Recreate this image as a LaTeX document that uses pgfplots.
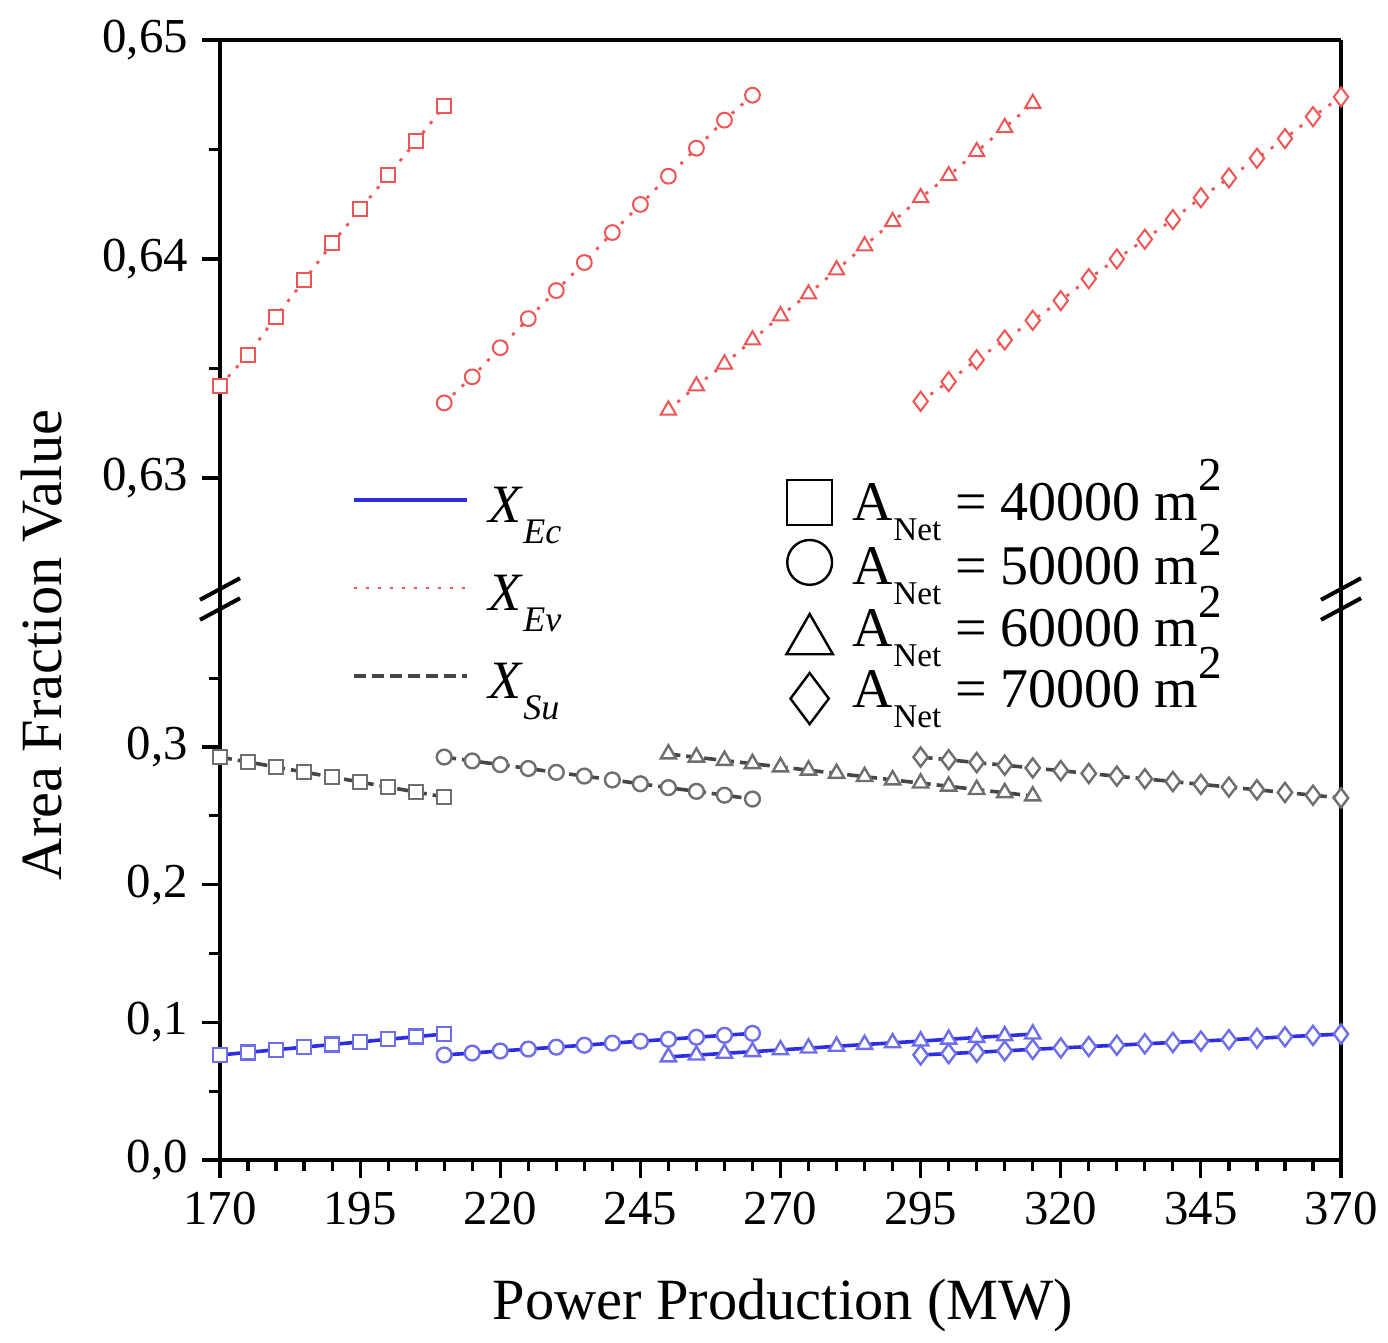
\documentclass[border=0pt]{standalone}
\usepackage{pgfplots}
\pgfplotsset{compat=1.18}
\usepackage{fontspec}
\setmainfont{Liberation Serif}
\definecolor{ecblue}{RGB}{45,45,225}
\definecolor{ecmark}{RGB}{110,110,235}
\definecolor{evred}{RGB}{240,85,85}
\definecolor{sugray}{RGB}{70,70,70}
\definecolor{sumark}{RGB}{110,110,110}
\tikzset{
  ec/.style={ecblue, line width=0.9pt, mark options={solid, draw=ecmark, fill=white, line width=0.6pt}},
  ev/.style={evred, line width=0.7pt, dash pattern=on 0.8pt off 2.2pt, mark options={solid, draw=evred, fill=white, line width=0.5pt}},
  su/.style={sugray, line width=0.9pt, dash pattern=on 3pt off 1.5pt, mark options={solid, draw=sumark, fill=white, line width=0.6pt}},
  msq/.style={mark=square*, mark size=1.75pt},
  mci/.style={mark=*, mark size=1.85pt},
  mtr/.style={mark=triangle*, mark size=2.2pt},
  mdi/.style={mark=diamond*, mark size=2.4pt},
}
\pgfplotsset{
  brk/.style={
    scale only axis, width=280.25pt,
    xmin=170, xmax=370,
    tick align=outside, tick pos=left,
    major tick length=4.5pt, minor tick length=2.8pt,
    every tick/.append style={black, line width=0.8pt},
    axis line style={line width=0.8pt, -},
    tick label style={font=\fontsize{12.2}{14}\selectfont},
    /pgf/number format/assume math mode=true,
    legend cell align=left,
  },
}
\newcommand{\Xsub}[1]{\textit{X}\raisebox{-5.25pt}[0pt][0pt]{\fontsize{9}{10}\selectfont\textit{#1}}}
\newcommand{\Anet}[1]{A\raisebox{-5pt}[0pt][0pt]{\fontsize{8.3}{9}\selectfont Net} = #1 m\raisebox{7.25pt}[0pt][0pt]{\fontsize{11.8}{12}\selectfont 2}}
\begin{document}
\begin{tikzpicture}
\path[use as bounding box] (-55pt,-45.5pt) rectangle (292pt,290pt);
% ---------------- lower part ----------------
\begin{axis}[brk, at={(0pt,0pt)}, anchor=south west, height=137.67pt,
  ymin=0, ymax=0.4,
  axis x line*=bottom, axis y line*=box,
  xtick={170,195,...,370}, minor x tick num=4,
  ytick={0,0.1,0.2,0.3}, yticklabels={{0,0},{0,1},{0,2},{0,3}},
  minor ytick={0.05,0.15,0.25,0.35},
  legend style={draw=none, fill=none, inner sep=0pt, outer sep=0pt,
    at={(axis description cs:0.1178,1.2494)}, anchor=north west,
    font=\fontsize{13.5}{16}\selectfont, row sep=0pt,
    nodes={inner sep=0pt, text height=12.5pt, text depth=9.5pt},
    /tikz/every odd column/.append style={column sep=5pt}},
  legend image code/.code={\draw[#1] (0pt,4pt) -- (28.25pt,4pt);},
]
% X_Ec
\addplot[ec, msq, forget plot] coordinates {(170,0.0763)(175,0.0782)(180,0.0801)(185,0.0820)(190,0.0839)(195,0.0858)(200,0.0877)(205,0.0896)(210,0.0915)};
\addplot[ec, mci, forget plot] coordinates {(210,0.0763)(215,0.0777)(220,0.0792)(225,0.0806)(230,0.0820)(235,0.0834)(240,0.0849)(245,0.0863)(250,0.0877)(255,0.0892)(260,0.0906)(265,0.0920)};
\addplot[ec, mtr, forget plot] coordinates {(250,0.0749)(255,0.0762)(260,0.0775)(265,0.0787)(270,0.0800)(275,0.0813)(280,0.0826)(285,0.0839)(290,0.0851)(295,0.0864)(300,0.0877)(305,0.0890)(310,0.0902)(315,0.0915)};
\addplot[ec, mdi, forget plot] coordinates {(295,0.0763)(300,0.0773)(305,0.0783)(310,0.0793)(315,0.0804)(320,0.0814)(325,0.0824)(330,0.0834)(335,0.0844)(340,0.0854)(345,0.0864)(350,0.0874)(355,0.0884)(360,0.0895)(365,0.0905)(370,0.0915)};
% X_Su
\addplot[su, msq, forget plot] coordinates {(170,0.2927)(175,0.2891)(180,0.2855)(185,0.2818)(190,0.2782)(195,0.2746)(200,0.2709)(205,0.2673)(210,0.2637)};
\addplot[su, mci, forget plot] coordinates {(210,0.2927)(215,0.2899)(220,0.2872)(225,0.2844)(230,0.2816)(235,0.2789)(240,0.2761)(245,0.2733)(250,0.2705)(255,0.2678)(260,0.2650)(265,0.2622)};
\addplot[su, mtr, forget plot] coordinates {(250,0.2949)(255,0.2926)(260,0.2902)(265,0.2879)(270,0.2855)(275,0.2832)(280,0.2808)(285,0.2785)(290,0.2761)(295,0.2738)(300,0.2715)(305,0.2691)(310,0.2668)(315,0.2644)};
\addplot[su, mdi, forget plot] coordinates {(295,0.2927)(300,0.2907)(305,0.2887)(310,0.2868)(315,0.2848)(320,0.2828)(325,0.2808)(330,0.2788)(335,0.2769)(340,0.2749)(345,0.2729)(350,0.2709)(355,0.2689)(360,0.2670)(365,0.2650)(370,0.2630)};
\addlegendimage{ec}
\addlegendentry{\Xsub{Ec}}
\addlegendimage{ev}
\addlegendentry{\Xsub{Ev}}
\addlegendimage{su}
\addlegendentry{\Xsub{Su}}
\end{axis}
% ---------------- upper part ----------------
\begin{axis}[brk, at={(0pt,143.125pt)}, anchor=south west, height=136.875pt,
  ymin=0.625, ymax=0.65,
  hide x axis, axis y line*=box,
  xtick=\empty,
  ytick={0.63,0.64,0.65}, yticklabels={{0,63},{0,64},{0,65}},
  minor ytick={0.635,0.645},
  legend style={draw=none, fill=none, inner sep=0pt, outer sep=0pt,
    at={(axis description cs:0.5053,0.1993)}, anchor=north west,
    font=\fontsize{14}{16}\selectfont, row sep=0pt,
    nodes={inner sep=0pt, text height=10.4pt, text depth=5pt},
    /tikz/every odd column/.append style={column sep=5pt}},
  legend image code/.code={\draw[#1] plot coordinates {(0pt,0pt)};},
]
\addplot[ev, msq, forget plot] coordinates {(170,0.63421)(175,0.63563)(180,0.63737)(185,0.63902)(190,0.64071)(195,0.64227)(200,0.64382)(205,0.64538)(210,0.64698)};
\addplot[ev, mci, forget plot] coordinates {(210,0.63343)(215,0.63462)(220,0.63595)(225,0.63728)(230,0.63856)(235,0.63984)(240,0.64121)(245,0.64249)(250,0.64378)(255,0.64506)(260,0.64634)(265,0.64748)};
\addplot[ev, mtr, forget plot] coordinates {(250,0.6331)(255,0.6342)(260,0.6352)(265,0.6363)(270,0.6374)(275,0.6384)(280,0.6395)(285,0.6406)(290,0.6417)(295,0.6428)(300,0.6438)(305,0.6449)(310,0.6460)(315,0.6471)};
\addplot[ev, mdi, forget plot] coordinates {(295,0.6335)(300,0.6344)(305,0.6354)(310,0.6363)(315,0.6372)(320,0.6381)(325,0.6391)(330,0.6400)(335,0.6409)(340,0.6418)(345,0.6428)(350,0.6437)(355,0.6446)(360,0.6455)(365,0.6465)(370,0.6474)};
\addlegendimage{mark=square, mark size=5.6pt, black, line width=0.6pt, yshift=1.7pt}
\addlegendentry{\Anet{40000}}
\addlegendimage{mark=o, mark size=5.6pt, black, line width=0.6pt, yshift=2.8pt}
\addlegendentry{\Anet{50000}}
\addlegendimage{mark=triangle, mark size=6.7pt, black, line width=0.6pt, yshift=-1.4pt}
\addlegendentry{\Anet{60000}}
\addlegendimage{mark=diamond, mark size=6.4pt, black, line width=0.6pt, yshift=-0.45pt}
\addlegendentry{\Anet{70000}}
\end{axis}
% ---------------- frame top and axis break ----------------
\draw[line width=0.8pt] (0pt,280pt) -- (280.25pt,280pt);
\draw[line width=0.8pt] (0pt,137.5pt) -- (0pt,143.3pt);
\draw[line width=0.8pt] (280.25pt,137.5pt) -- (280.25pt,143.3pt);
\foreach \xx in {0pt,280.25pt}{
  \draw[line width=1pt] ([xshift=-5pt]\xx,140.05pt) -- ([xshift=5pt]\xx,145.45pt);
  \draw[line width=1pt] ([xshift=-5pt]\xx,135.05pt) -- ([xshift=5pt]\xx,140.45pt);
}
% ---------------- axis labels ----------------
\node[rotate=90, font=\fontsize{14.6}{17}\selectfont] at (-44.5pt,128.75pt) {Area Fraction Value};
\node[font=\fontsize{14.6}{17}\selectfont] at (140.75pt,-36.25pt) {Power Production (MW)};
\end{tikzpicture}
\end{document}
